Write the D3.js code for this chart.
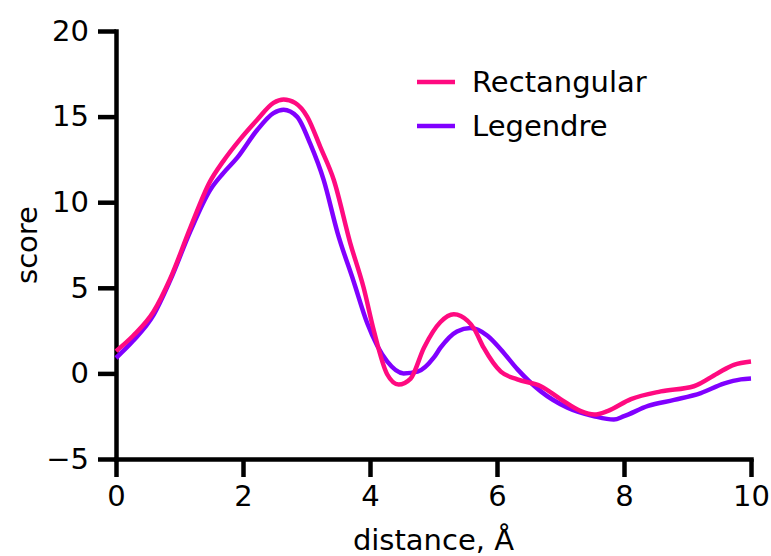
<!DOCTYPE html>
<html>
<head>
<meta charset="utf-8">
<title>score vs distance</title>
<script src="https://d3js.org/d3.v7.min.js"></script>
<style>
  body { margin: 0; background: #fff; }
  text { font-family: "DejaVu Sans", sans-serif; fill: #000; }
</style>
</head>
<body>
<div id="chart"></div>
<script>
// values
var rectX = [0, 0.27, 0.59, 0.85, 1.17, 1.48, 1.69, 1.96, 2.22, 2.48, 2.64, 2.82, 3.01, 3.22, 3.43, 3.69, 3.9, 4.06, 4.27, 4.45, 4.64, 4.85, 5.11, 5.32, 5.43, 5.64, 5.79, 6.06, 6.32, 6.69, 7.0, 7.32, 7.53, 7.74, 8.11, 8.58, 9.1, 9.47, 9.73, 10.0]
var rectY = [1.3, 2.2, 3.6, 5.5, 8.5, 11.2, 12.4, 13.7, 14.8, 15.8, 16.0, 15.8, 15.0, 13.2, 11.3, 7.6, 5.0, 2.5, -0.05, -0.65, -0.3, 1.5, 3.0, 3.45, 3.35, 2.6, 1.5, 0.1, -0.35, -0.75, -1.5, -2.2, -2.4, -2.2, -1.5, -1.05, -0.75, 0.0, 0.5, 0.7]
var legX = [0, 0.27, 0.59, 0.85, 1.17, 1.48, 1.69, 1.91, 2.22, 2.48, 2.64, 2.85, 3.06, 3.27, 3.49, 3.74, 3.96, 4.27, 4.53, 4.75, 5.0, 5.11, 5.37, 5.58, 5.85, 6.06, 6.32, 6.69, 7.11, 7.53, 7.84, 8.0, 8.38, 8.79, 9.21, 9.57, 9.84, 10.0]
var legY = [0.9, 1.9, 3.4, 5.4, 8.3, 10.7, 11.7, 12.6, 14.2, 15.2, 15.4, 15.0, 13.4, 11.3, 8.2, 5.4, 2.9, 0.7, 0.0, 0.1, 0.9, 1.5, 2.45, 2.65, 2.2, 1.4, 0.25, -1.05, -2.0, -2.5, -2.7, -2.5, -1.9, -1.55, -1.15, -0.6, -0.35, -0.3]
var seriesNames = ["Rectangular", "Legendre"]
var seriesColors = ["#ff0a80", "#8000ff"]
var xTicks = [0, 2, 4, 6, 8, 10]
var yTicks = [-5, 0, 5, 10, 15, 20]

var width = 771, height = 556
var margin = {top: 31, right: 20, bottom: 97, left: 116}

var svg = d3.select("#chart").append("svg")
    .attr("width", width)
    .attr("height", height)

var x = d3.scaleLinear().domain([0, 10]).range([margin.left, 751])
var y = d3.scaleLinear().domain([-5, 20]).range([459, margin.top])

// axes
var xAxis = svg.append("g")
    .attr("transform", "translate(0," + y(-5) + ")")
    .call(d3.axisBottom(x).tickValues(xTicks).tickSize(18).tickPadding(8).tickSizeOuter(0))
var yAxis = svg.append("g")
    .attr("transform", "translate(" + x(0) + ",0)")
    .call(d3.axisLeft(y).tickValues(yTicks).tickSize(18).tickPadding(9).tickSizeOuter(0)
        .tickFormat(function(d) { return d < 0 ? "\u2212" + Math.abs(d) : d }))

svg.selectAll(".domain, .tick line")
    .attr("stroke", "#000")
    .attr("stroke-width", 4.5)
svg.selectAll(".domain").attr("stroke-linecap", "square")
svg.selectAll(".tick text")
    .style("font-size", "29px")
    .style("font-family", "DejaVu Sans, sans-serif")
    .attr("fill", "#000")

// axis titles
svg.append("text")
    .attr("x", x(5))
    .attr("y", 550)
    .attr("text-anchor", "middle")
    .style("font-size", "29px")
    .text("distance, \u00c5")
svg.append("text")
    .attr("transform", "translate(37," + y(7.5) + ") rotate(-90)")
    .attr("text-anchor", "middle")
    .style("font-size", "29px")
    .text("score")

// lines
var line = d3.line()
    .x(function(d) { return x(d[0]) })
    .y(function(d) { return y(d[1]) })
    .curve(d3.curveMonotoneX)

var series = [d3.zip(rectX, rectY), d3.zip(legX, legY)]
// draw Legendre first so Rectangular sits on top
;[1, 0].forEach(function(i) {
    svg.append("path")
        .datum(series[i])
        .attr("fill", "none")
        .attr("stroke", seriesColors[i])
        .attr("stroke-width", 4.5)
        .attr("stroke-linejoin", "round")
        .attr("d", line)
})

// legend
var legend = svg.append("g")
seriesNames.forEach(function(name, i) {
    var ly = 82 + i * 44
    legend.append("line")
        .attr("x1", 417).attr("x2", 455)
        .attr("y1", ly).attr("y2", ly)
        .attr("stroke", seriesColors[i])
        .attr("stroke-width", 4.5)
    legend.append("text")
        .attr("x", 472)
        .attr("y", ly)
        .attr("dy", "0.36em")
        .style("font-size", "29px")
        .text(name)
})
</script>
</body>
</html>
